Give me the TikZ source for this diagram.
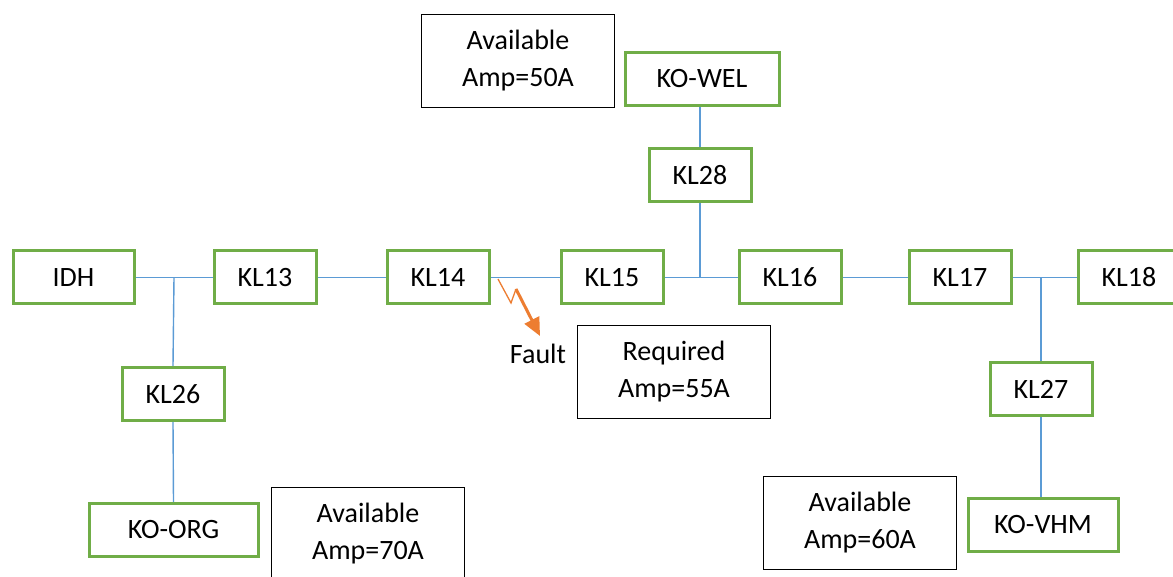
\documentclass[tikz,border=0pt]{standalone}
\usepackage{fontspec}
\setmainfont{Carlito}
\usetikzlibrary{arrows.meta}
\definecolor{grn}{RGB}{112,173,71}
\definecolor{blu}{RGB}{91,155,213}
\definecolor{org}{RGB}{237,125,49}
\begin{document}
\begin{tikzpicture}[x=1pt,y=-1pt,
  font=\fontsize{28}{37}\selectfont,
  gbox/.style={draw=grn, line width=3pt, minimum height=53pt, minimum width=102pt, inner sep=0pt},
  abox/.style={draw=black, line width=1pt, minimum width=193pt, minimum height=93pt, align=center, inner sep=0pt},
  wire/.style={draw=blu, line width=1.4pt},
  faultline/.style={draw=org, line width=1.3pt},
  faultarrow/.style={draw=org, line width=3pt, -{Triangle[length=18pt,width=16pt]}}]
\clip (0,0) rectangle (1173,577);
\fill[white] (0,0) rectangle (1173,577);
% green boxes
\node[gbox, minimum width=121pt] (IDH) at (73.5,277.5) {IDH};
\node[gbox] (KL13) at (265,277.5) {KL13};
\node[gbox] (KL14) at (438,277.5) {KL14};
\node[gbox] (KL15) at (612,277.5) {KL15};
\node[gbox] (KL16) at (790,277.5) {KL16};
\node[gbox] (KL17) at (960,277.5) {KL17};
\node[gbox] (KL18) at (1129,277.5) {KL18};
\node[gbox] (KL26) at (173,394) {KL26};
\node[gbox] (KL27) at (1041,389) {KL27};
\node[gbox] (KL28) at (700,175) {KL28};
\node[gbox, minimum width=154pt] (KOWEL) at (702,79) {KO-WEL};
\node[gbox, minimum width=169pt] (KOORG) at (173.5,530) {KO-ORG};
\node[gbox, minimum width=150pt] (KOVHM) at (1043,524.5) {KO-VHM};
% black info boxes
\node[abox] (A50) at (518,61) {Available\\Amp=50A};
\node[abox] (R55) at (674,372) {Required\\Amp=55A};
\node[abox] (A60) at (860,522.5) {Available\\Amp=60A};
\node[abox] (A70) at (368,534) {Available\\Amp=70A};
% junctions
\coordinate (j1) at (174,277.5);
\coordinate (j2) at (700,277.5);
\coordinate (j3) at (1041,277.5);
% wires
\draw[wire] (IDH.east) -- (KL13.west);
\draw[wire] (j1) -- (KL26.north);
\draw[wire] (KL26.south) -- (KOORG.north);
\draw[wire] (KL13.east) -- (KL14.west);
\draw[wire] (KL14.east) -- (KL15.west);
\draw[wire] (KL15.east) -- (KL16.west);
\draw[wire] (KOWEL.south -| j2) -- (KL28.north);
\draw[wire] (KL28.south) -- (j2);
\draw[wire] (KL16.east) -- (KL17.west);
\draw[wire] (KL17.east) -- (KL18.west);
\draw[wire] (j3) -- (KL27.north);
\draw[wire] (KL27.south) -- (KOVHM.north -| KL27.south);
% fault
\coordinate (f0) at (498,279);
\coordinate (f1) at (511,303);
\coordinate (f2) at (516,289);
\coordinate (f3) at (540,336);
\draw[faultline, line join=miter] (f0) -- (f1) -- (f2);
\draw[faultarrow] (f2) -- (f3);
\node[text=black] (fault) at (538,354) {Fault};
\end{tikzpicture}
\end{document}
